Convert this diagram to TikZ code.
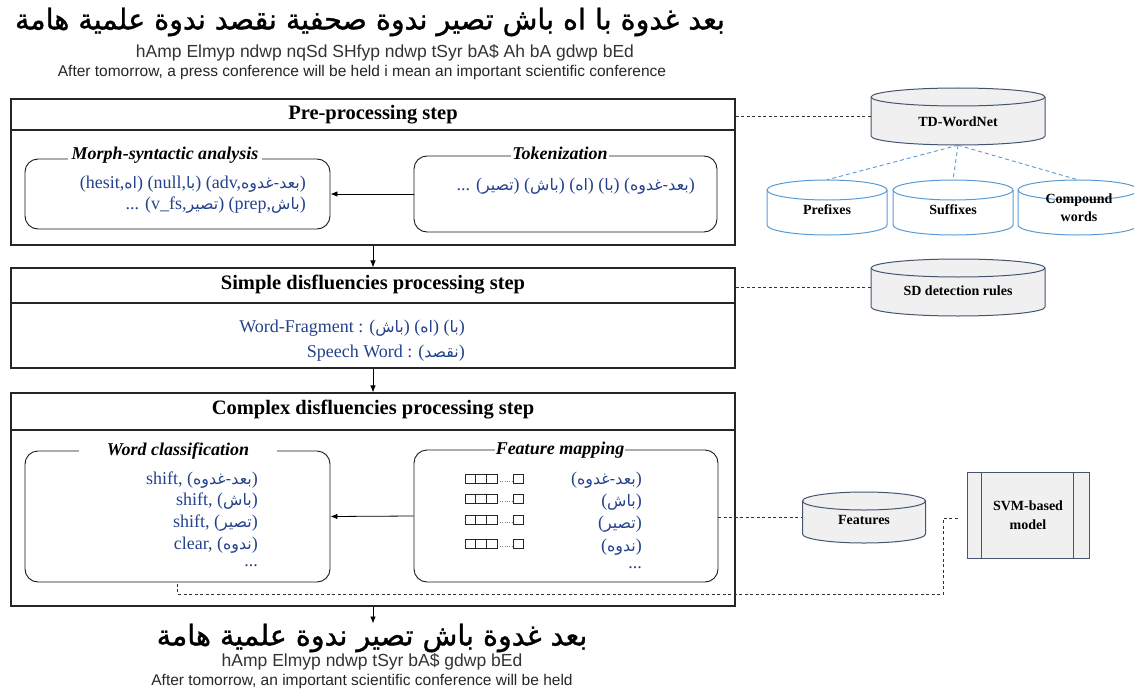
\documentclass[tikz,border=0pt]{standalone}
\usepackage{fontspec}
\setmainfont{Liberation Serif}
\newfontfamily\arfont[Script=Arabic,Scale=0.88]{DejaVu Sans}
\newfontfamily\arbig[Script=Arabic,FakeBold=1.2]{DejaVu Sans}
\newfontfamily\latsans{Liberation Sans}
\TeXXeTstate=1
\usetikzlibrary{arrows.meta}

% Arabic inline text, set right to left
\newcommand\AR[1]{{\arfont\beginR #1\endR}}

\definecolor{txtblue}{HTML}{24428C}
\definecolor{dbline}{HTML}{44556F}
\definecolor{dbfill}{HTML}{F0F0F0}
\definecolor{cylblue}{HTML}{5B9BD5}

% database cylinder: name, centre x, top y, width, bottom y, ellipse radius, style
\newcommand\dbcyl[7]{%
  \pgfmathsetmacro\cylL{#2-#4/2}\pgfmathsetmacro\cylR{#2+#4/2}%
  \pgfmathsetmacro\cylT{#3+#6}\pgfmathsetmacro\cylB{#5-#6}%
  \pgfmathsetmacro\cylrx{#4/2}\pgfmathsetmacro\cylH{#5-#3}%
  \filldraw[#7] (\cylL,\cylT) -- (\cylL,\cylB)
     arc[start angle=180,end angle=360,x radius=\cylrx pt,y radius=#6pt]
     -- (\cylR,\cylT)
     arc[start angle=0,end angle=180,x radius=\cylrx pt,y radius=#6pt] -- cycle;
  \draw[#7,fill=none] (\cylL,\cylT)
     arc[start angle=180,end angle=360,x radius=\cylrx pt,y radius=#6pt];
  \node[inner sep=0pt,minimum width=#4pt,minimum height=\cylH pt] (#1) at (#2,{(#3+#5)/2}) {};
}

\tikzset{
  frame/.style={draw=black!85,line width=1.1pt,inner sep=0pt},
  head/.style={font=\bfseries\fontsize{20.5}{24}\selectfont,inner sep=0pt},
  panel/.style={draw=black!90,line width=0.9pt,rounded corners=13pt,inner sep=0pt},
  ptitle/.style={fill=white,font=\bfseries\itshape\fontsize{18}{20}\selectfont,inner ysep=1pt},
  content/.style={text=txtblue,font=\fontsize{18}{21}\selectfont,inner sep=0pt},
  arr/.style={-{Latex[length=7pt,width=5.5pt]},line width=0.8pt},
  dsh/.style={draw=black!80,dash pattern=on 3pt off 2.5pt,line width=0.9pt},
  bdsh/.style={draw=cylblue,dash pattern=on 4pt off 3pt,line width=0.9pt},
  dbgray/.style={draw=dbline,fill=dbfill,line width=1pt},
  dbblue/.style={draw=cylblue,fill=white,line width=1pt},
  dblabel/.style={font=\bfseries\fontsize{14}{18}\selectfont,align=center,inner sep=0pt},
  sentar/.style={font=\arbig\fontsize{28.5}{31}\selectfont,inner sep=0pt},
  translit/.style={font=\latsans\fontsize{17.5}{19}\selectfont,text=black!80,inner sep=0pt},
  sentlat/.style={font=\latsans\fontsize{15.5}{17}\selectfont,text=black!85,inner sep=0pt},
  vecsq/.style={draw=black!85,line width=0.8pt},
}

\begin{document}
\begin{tikzpicture}[x=1pt,y=-1pt]
\useasboundingbox[fill=white] (0,0) rectangle (1134,690);

% ---------- input sentence ----------
\node[sentar] (in-ar) at (370,22) {\beginR بعد غدوة با اه باش تصير ندوة صحفية نقصد ندوة علمية هامة\endR};
\node[translit] (in-tr) at (385,53) {hAmp Elmyp ndwp nqSd SHfyp ndwp tSyr bA\$ Ah bA gdwp bEd};
\node[sentlat] (in-en) at (362,72) {After tomorrow, a press conference will be held i mean an important scientific conference};

% ---------- pre-processing ----------
\node[frame,minimum width=724pt,minimum height=146pt] (pre) at (373,172) {};
\draw[frame] (11,130) -- (735,130);
\node[head] (pre-h) at (373,115) {Pre-processing step};

\node[panel,minimum width=305pt,minimum height=70pt] (morph) at (177.5,194) {};
\node[ptitle,inner xsep=4pt] (morph-t) at (165,155) {Morph-syntactic analysis};
\node[content,anchor=east] (morph-1) at (306,184) {(hesit,\AR{اه}) (null,\AR{با}) (adv,\AR{بعد-غدوه})};
\node[content,anchor=east] (morph-2) at (306,205) {... (v\_fs,\AR{تصير}) (prep,\AR{باش})};

\node[panel,minimum width=303pt,minimum height=76pt] (tok) at (565.5,194) {};
\node[ptitle,inner xsep=1pt] (tok-t) at (560,153) {Tokenization};
\node[content,anchor=east] (tok-1) at (695,186) {... (\AR{تصير}) (\AR{باش}) (\AR{اه}) (\AR{با}) (\AR{بعد-غدوه})};

\draw[arr] (tok.west) -- (morph.east);

% ---------- simple disfluencies ----------
\node[frame,minimum width=724pt,minimum height=100pt] (sdp) at (373,318) {};
\draw[frame] (11,303) -- (735,303);
\node[head] (sdp-h) at (373,285) {Simple disfluencies processing step};
\node[content,anchor=east] (sdp-1) at (465,328) {Word-Fragment : (\AR{باش}) (\AR{اه}) (\AR{با})};
\node[content,anchor=east] (sdp-2) at (465,353) {Speech Word : (\AR{نقصد})};

\draw[arr] (pre.south) -- (sdp.north);

% ---------- complex disfluencies ----------
\node[frame,minimum width=724pt,minimum height=213pt] (cdp) at (373,499.5) {};
\draw[frame] (11,430) -- (735,430);
\node[head] (cdp-h) at (373,410) {Complex disfluencies processing step};

\draw[arr] (sdp.south) -- (cdp.north);

\node[panel,minimum width=305pt,minimum height=131pt] (wc) at (177.5,516.5) {};
\node[ptitle,inner xsep=28pt] (wc-t) at (178,451) {Word classification};
\node[content,anchor=east] (wc-1) at (258,480) {shift, (\AR{بعد-غدوه})};
\node[content,anchor=east] (wc-2) at (258,501) {shift, (\AR{باش})};
\node[content,anchor=east] (wc-3) at (258,523) {shift, (\AR{تصير})};
\node[content,anchor=east] (wc-4) at (258,545) {clear, (\AR{ندوه})};
\node[content,anchor=east] (wc-5) at (258,566) {...};

\node[panel,minimum width=304pt,minimum height=132pt] (fm) at (566,516) {};
\node[ptitle,inner xsep=1pt] (fm-t) at (560,450) {Feature mapping};
\node[content,anchor=east] (fm-1) at (642,480) {(\AR{بعد-غدوه})};
\node[content,anchor=east] (fm-2) at (642,502) {(\AR{باش})};
\node[content,anchor=east] (fm-3) at (642,524) {(\AR{تصير})};
\node[content,anchor=east] (fm-4) at (642,547) {(\AR{ندوه})};
\node[content,anchor=east] (fm-5) at (642,568) {...};

% feature vectors
\foreach \vy in {479,499,520,544}{
  \foreach \i in {0,1,2}
    \draw[vecsq] (465+\i*10.7,\vy-4.2) rectangle ++(10.7,8.4);
  \draw[gray,line width=0.9pt,dash pattern=on 1pt off 1.3pt] (500,\vy+2.5) -- (512,\vy+2.5);
  \draw[vecsq] (513.5,\vy-4.2) rectangle ++(10,8.4);
}

\draw[arr] (fm.west) -- (wc.east);

% ---------- output sentence ----------
\node[sentar] (out-ar) at (372,638) {\beginR بعد غدوة باش تصير ندوة علمية هامة\endR};
\node[translit] (out-tr) at (372,662) {hAmp Elmyp ndwp tSyr bA\$ gdwp bEd};
\node[sentlat] (out-en) at (362,681) {After tomorrow, an important scientific conference will be held};

\draw[arr] (cdp.south) -- (cdp.south |- out-ar.north);

% ---------- resources ----------
\dbcyl{tdw}{958}{88}{174}{145}{9}{dbgray}
\node[dblabel] (tdw-l) at (958,122) {TD-WordNet};
\dbcyl{pref}{827}{180}{120}{235}{10}{dbblue}
\node[dblabel] (pref-l) at (827,210) {Prefixes};
\dbcyl{suff}{953}{180}{120}{235}{10}{dbblue}
\node[dblabel] (suff-l) at (953,210) {Suffixes};
\dbcyl{comp}{1078}{180}{120}{235}{10}{dbblue}
\node[dblabel] (comp-l) at (1079,208) {Compound\\words};

\draw[bdsh] (tdw.south) -- (pref.north);
\draw[bdsh] (tdw.south) -- (suff.north);
\draw[bdsh] (tdw.south) -- (comp.north);
\draw[dsh] (tdw.west -| pre.east) -- (tdw.west);

\dbcyl{sdr}{958}{259}{174}{316}{9}{dbgray}
\node[dblabel] (sdr-l) at (958,291) {SD detection rules};
\draw[dsh] (sdr.west -| sdp.east) -- (sdr.west);

\dbcyl{feat}{864}{492}{123}{543}{9}{dbgray}
\node[dblabel] (feat-l) at (864,520) {Features};
\draw[dsh] (feat.west -| fm.east) -- (feat.west);

\node[draw=dbline,fill=dbfill,line width=1pt,minimum width=122pt,minimum height=86pt,
      font=\bfseries\fontsize{14}{19}\selectfont,align=center] (svm) at (1028,515) {SVM-based\\model};
\draw[dbline,line width=1pt] ([xshift=15pt]svm.north west) -- ([xshift=15pt]svm.south west);
\draw[dbline,line width=1pt] ([xshift=-16pt]svm.north east) -- ([xshift=-16pt]svm.south east);

\coordinate (svm-in) at ([xshift=-9pt,yshift=-3pt]svm.west);
\coordinate (svm-bend) at (943,594);
\draw[dsh] (svm-in) -| (svm-bend) -| (wc.south);
\end{tikzpicture}
\end{document}
